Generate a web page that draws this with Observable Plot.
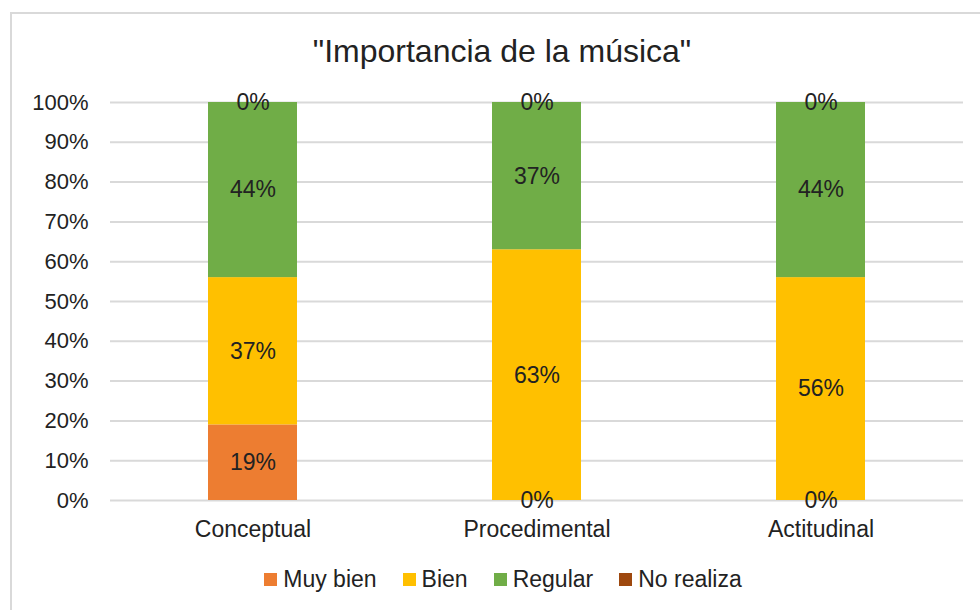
<!DOCTYPE html>
<html>
<head>
<meta charset="utf-8">
<script src="https://cdn.jsdelivr.net/npm/d3@7"></script>
<script src="https://cdn.jsdelivr.net/npm/@observablehq/plot@0.6"></script>
<style>
  html, body { margin: 0; padding: 0; background: #fff; overflow: hidden; }
  #wrap { position: relative; width: 980px; height: 610px; font-family: "Liberation Sans", Arial, sans-serif; color: #222; }
  #frame { position: absolute; left: 10px; top: 12px; width: 990px; height: 620px; border: 2px solid #d9d9d9; box-sizing: border-box; }
  #title { position: absolute; left: 0; top: 35px; width: 1004px; text-align: center; font-size: 32px; line-height: 32px; color: #222; }
  #chart { position: absolute; left: 0; top: 0; }
  #legend { position: absolute; left: 0; top: 568px; width: 1006px; display: flex; justify-content: center; font-size: 23px; line-height: 23px; color: #222; }
  .item { display: flex; align-items: center; margin: 0 13px; }
  .sw { width: 13px; height: 13px; margin-right: 6px; }
</style>
</head>
<body>
<div id="wrap">
  <div id="frame"></div>
  <div id="chart"></div>
  <div id="title"></div>
  <div id="legend"></div>
</div>
<script>
const title = "\"Importancia de la música\"";
const categories = ["Conceptual", "Procedimental", "Actitudinal"];
const seriesNames = ["Muy bien", "Bien", "Regular", "No realiza"];
const muyBien = [19, 0, 0];
const bien = [37, 63, 56];
const regular = [44, 37, 44];
const noRealiza = [0, 0, 0];
const colors = ["#ED7D31", "#FFC000", "#70AD47", "#9E480E"];
const yTicks = [0, 10, 20, 30, 40, 50, 60, 70, 80, 90, 100];

const seriesValues = [muyBien, bien, regular, noRealiza];
const data = [];
seriesNames.forEach((s, si) => {
  categories.forEach((c, ci) => {
    data.push({cat: c, serie: s, value: seriesValues[si][ci]});
  });
});

document.getElementById("title").textContent = title;

const chart = Plot.plot({
  width: 980,
  height: 545,
  marginTop: 102,
  marginBottom: 45,
  marginLeft: 110,
  marginRight: 17,
  style: {fontFamily: "'Liberation Sans', Arial, sans-serif", fontSize: "22px", color: "#222", background: "transparent"},
  x: {domain: categories, paddingInner: 0.687, paddingOuter: 0.3435},
  y: {domain: [0, 100]},
  color: {domain: seriesNames, range: colors},
  marks: [
    Plot.gridY(yTicks, {stroke: "#d9d9d9", strokeOpacity: 1, strokeWidth: 2}),
    Plot.barY(data, {x: "cat", y: "value", fill: "serie"}),
    Plot.text(data, Plot.stackY({x: "cat", y: "value", text: d => d.value + "%", fill: "#222", fontSize: 23})),
    Plot.axisY(yTicks, {tickFormat: d => d + "%", tickSize: 0, tickPadding: 22, label: null, fontSize: 22}),
    Plot.axisX({tickSize: 0, tickPadding: 20, label: null, fontSize: 23})
  ]
});
document.getElementById("chart").appendChild(chart);

const legend = document.getElementById("legend");
seriesNames.forEach((s, i) => {
  const it = document.createElement("div");
  it.className = "item";
  const sw = document.createElement("div");
  sw.className = "sw";
  sw.style.background = colors[i];
  const tx = document.createElement("span");
  tx.textContent = s;
  it.appendChild(sw);
  it.appendChild(tx);
  legend.appendChild(it);
});
</script>
</body>
</html>
